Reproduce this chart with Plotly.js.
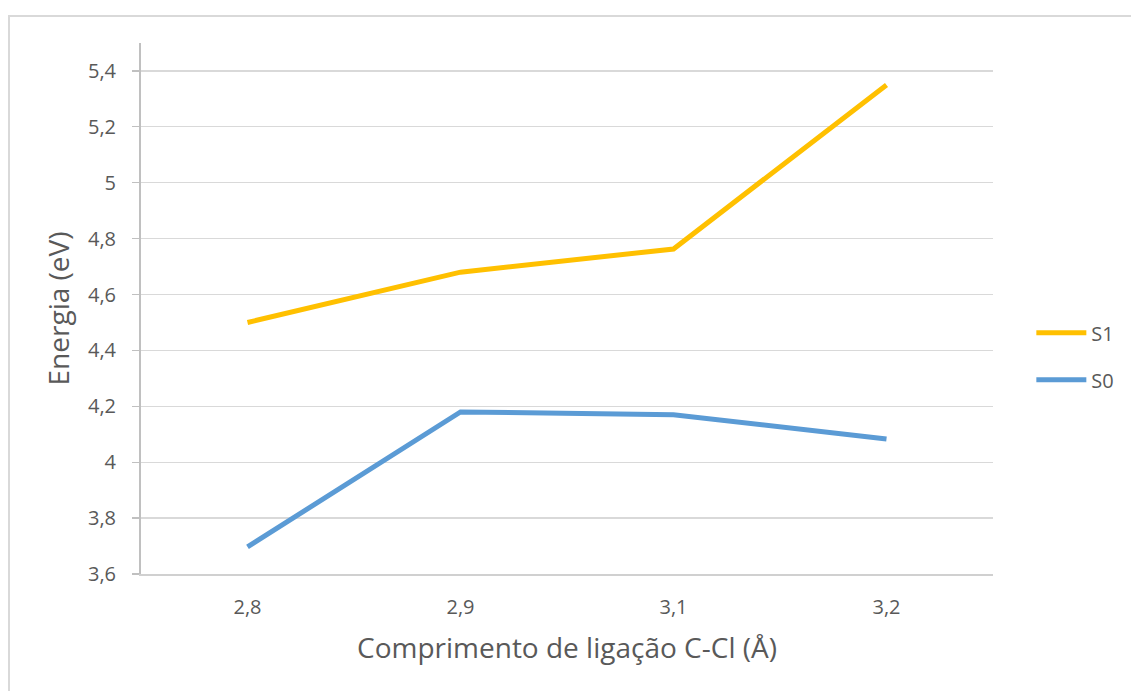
<!DOCTYPE html>
<html>
<head>
<meta charset="utf-8">
<script src="https://cdn.plot.ly/plotly-3.0.1.min.js"></script>
<style>
  html, body { margin: 0; padding: 0; width: 1131px; height: 691px; overflow: hidden; background: #fff; }
  #frame { position: absolute; left: 8px; top: 15px; width: 1140px; height: 700px; border: 2px solid #d9d9d9; box-sizing: border-box; }
  #chart { position: absolute; left: 0; top: 0; width: 1131px; height: 691px; }
</style>
</head>
<body>
<div id="frame"></div>
<div id="chart"></div>
<script>
const categories = ["2,8", "2,9", "3,1", "3,2"];
const s1Values = [4.50, 4.68, 4.763, 5.35];
const s0Values = [3.697, 4.18, 4.17, 4.083];
const seriesNames = ["S1", "S0"];
const xTitle = "Comprimento de ligação C-Cl (Å)";
const yTitle = "Energia (eV)";

const fontFam = "'Open Sans', sans-serif";
const traces = [
  { x: categories, y: s1Values, name: seriesNames[0], legendgroup: "a", type: "scatter", mode: "lines",
    line: { color: "#FFC000", width: 5 } },
  { x: categories, y: s0Values, name: seriesNames[1], legendgroup: "b", type: "scatter", mode: "lines",
    line: { color: "#5B9BD5", width: 5 } }
];

const layout = {
  width: 1131, height: 691,
  paper_bgcolor: "rgba(0,0,0,0)", plot_bgcolor: "rgba(0,0,0,0)",
  separators: ",.",
  margin: { l: 141, r: 138, t: 43, b: 117 },
  font: { family: fontFam, color: "#595959", size: 20 },
  showlegend: true,
  legend: { x: 1.045, y: 0.41, xanchor: "left", yanchor: "middle",
    font: { size: 20, color: "#595959" }, itemwidth: 50, tracegroupgap: 18,
    bgcolor: "rgba(0,0,0,0)" },
  xaxis: {
    type: "category", range: [-0.5, 3.5],
    showgrid: false, showline: true, linecolor: "#d0d0d0", linewidth: 1.5,
    ticks: "", ticklabelstandoff: 14,
    tickfont: { size: 20, color: "#595959" },
    title: { text: xTitle, font: { size: 28, color: "#595959" }, standoff: 20 },
    zeroline: false
  },
  yaxis: {
    range: [3.6, 5.5], tick0: 3.6, dtick: 0.2,
    showgrid: true, gridcolor: "#d9d9d9", gridwidth: 1.3,
    showline: true, linecolor: "#c0c0c0", linewidth: 2,
    ticks: "outside", ticklen: 7, tickcolor: "#c0c0c0", tickwidth: 1.3,
    ticklabelstandoff: 12,
    tickfont: { size: 20, color: "#595959" },
    title: { text: yTitle, font: { size: 28, color: "#595959" }, standoff: 10 },
    zeroline: false
  }
};

Plotly.newPlot("chart", traces, layout, { displayModeBar: false, staticPlot: true });
</script>
</body>
</html>
